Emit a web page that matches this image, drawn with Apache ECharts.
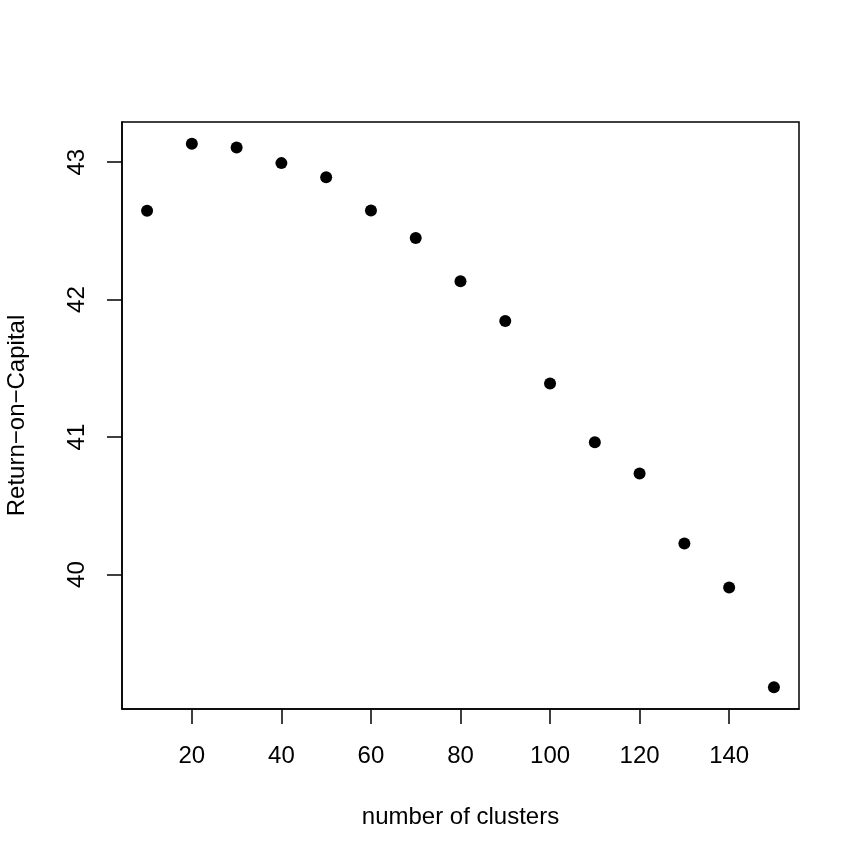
<!DOCTYPE html>
<html>
<head>
<meta charset="utf-8">
<script src="https://cdn.jsdelivr.net/npm/echarts@6/dist/echarts.min.js"></script>
<style>
html,body{margin:0;padding:0;background:#fff;}
#c{width:863px;height:863px;}
</style>
</head>
<body>
<div id="c"></div>
<script>
var clusters = [10, 20, 30, 40, 50, 60, 70, 80, 90, 100, 110, 120, 130, 140, 150];
var roc = [42.646, 43.134, 43.107, 42.993, 42.891, 42.648, 42.449, 42.133, 41.845, 41.390, 40.963, 40.735, 40.225, 39.905, 39.180];
var xTicks = [20, 40, 60, 80, 100, 120, 140];
var yTicks = [40, 41, 42, 43];
var xTitle = 'number of clusters';
var yTitle = 'Return\u2212on\u2212Capital';

function padRange(arr) {
  var mn = Math.min.apply(null, arr), mx = Math.max.apply(null, arr);
  var d = (mx - mn) * 0.04;
  return [mn - d, mx + d];
}
var xr = padRange(clusters);
var yr = padRange(roc);
var FONT = '"Liberation Sans", Arial, Helvetica, sans-serif';

var chart = echarts.init(document.getElementById('c'), null, {renderer: 'canvas'});
chart.setOption({
  animation: false,
  backgroundColor: '#ffffff',
  grid: {
    left: 122, top: 122, width: 677, height: 587,
    containLabel: false, outerBoundsMode: 'none',
    show: true, borderColor: '#000', borderWidth: 1.5, backgroundColor: 'transparent'
  },
  xAxis: {
    type: 'value', min: xr[0], max: xr[1],
    name: xTitle, nameLocation: 'middle', nameGap: 96,
    nameTextStyle: {color: '#000', fontSize: 24, fontFamily: FONT},
    axisLine: {show: true, onZero: false, lineStyle: {color: '#000', width: 1.5}},
    axisTick: {show: true, inside: false, length: 15, customValues: xTicks, lineStyle: {color: '#000', width: 1.5}},
    axisLabel: {show: true, customValues: xTicks, margin: 35, color: '#000', fontSize: 24, fontFamily: FONT},
    splitLine: {show: false}
  },
  yAxis: {
    type: 'value', min: yr[0], max: yr[1],
    name: yTitle, nameLocation: 'middle', nameGap: 93, nameRotate: 90,
    nameTextStyle: {color: '#000', fontSize: 24, fontFamily: FONT},
    axisLine: {show: true, onZero: false, lineStyle: {color: '#000', width: 1.5}},
    axisTick: {show: true, inside: false, length: 15, customValues: yTicks, lineStyle: {color: '#000', width: 1.5}},
    axisLabel: {show: true, customValues: yTicks, rotate: 90, margin: 33, color: '#000', fontSize: 24, fontFamily: FONT},
    splitLine: {show: false}
  },
  series: [{
    type: 'scatter',
    symbol: 'circle',
    symbolSize: 12,
    itemStyle: {color: '#000', opacity: 1},
    emphasis: {disabled: true},
    data: clusters.map(function (c, i) { return [c, roc[i]]; })
  }]
});
</script>
</body>
</html>
